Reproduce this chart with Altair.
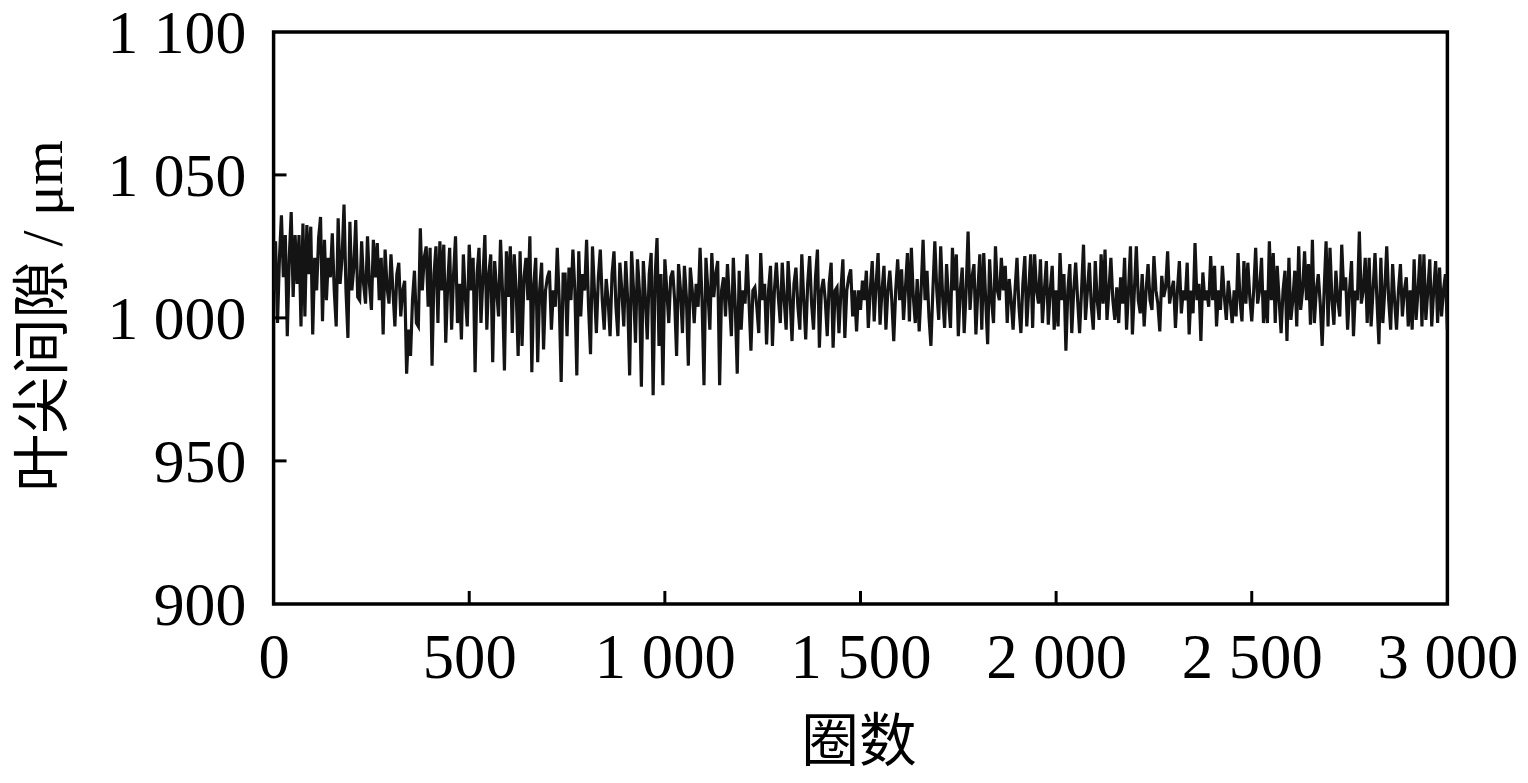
import altair as alt
import pandas as pd

# Tip-clearance readings (µm)
seg1 = [1009.6, 1026.8, 998.2, 1021.0, 1035.9, 1014.2, 1029.0, 993.6, 1021.0, 1037.0,
        1007.3, 1029.0, 1011.9, 1029.0, 997.0, 1033.0, 1000.5, 1032.5, 1015.3, 1031.9,
        994.2, 1021.0, 1009.6, 1027.9, 1035.3, 998.8, 1027.3, 1006.2, 1021.0, 1014.2,
        1029.6, 1009.6, 997.0, 1034.8, 1011.9, 1021.0, 1039.6, 1009.6, 993.0, 1033.6,
        1009.6, 1017.6, 1034.2, 1007.3, 1006.2, 1026.8, 1011.9, 1005.0, 1028.5, 1011.9,
        1002.8, 1027.3, 1014.2, 1026.2, 1006.2, 1021.0, 994.2, 1023.9, 1010.7, 1005.0,
        1022.2, 1009.6, 997.0, 1015.3, 1019.3, 1000.5, 1009.6, 1013.0, 980.5, 995.9,
        986.7, 1006.2, 1016.5, 998.2]
seg2 = [997.0, 1031.3, 1009.6, 1021.0, 1025.0, 1003.9, 1024.5, 983.3, 1015.3, 1025.0,
        998.2, 1026.8, 1009.6, 1025.6, 991.3, 1011.9, 1024.5, 995.9, 1015.3, 1028.5,
        998.2, 1011.9, 992.5, 1022.2, 1007.3, 997.0, 1025.6, 1009.6, 1021.0, 981.0,
        1015.3, 1024.5, 998.2, 1014.2, 1029.0, 995.9, 1015.3, 1022.2, 984.5, 1019.9,
        1009.6, 1000.5, 1027.3, 1009.6, 981.6, 1023.3, 1007.3, 1025.0, 994.7, 1022.2,
        1009.6, 986.7, 1023.3, 990.2, 1014.2, 1021.0, 1006.2, 1028.5, 981.0, 1011.9,
        1021.0, 984.5, 1009.6, 1019.3, 989.0, 1009.6, 1014.2, 1016.5, 995.9, 1009.6,
        1003.9, 1024.5, 1006.2, 977.6, 1015.3]
seg3 = [1015.3, 993.6, 1017.6, 1006.2, 1023.9, 1009.6, 979.9, 1023.3, 1000.5, 1015.3,
        1009.6, 1027.3, 1003.9, 987.3, 1025.0, 1009.6, 994.7, 1014.2, 1023.9, 1006.2,
        995.9, 1013.6, 1006.2, 993.6, 1015.3, 1023.3, 1003.9, 993.6, 1019.3, 1009.6,
        997.0, 1019.9, 1006.2, 979.9, 1023.3, 1009.6, 991.3, 1020.5, 1009.6, 975.9,
        1019.9, 1007.3, 992.5, 1015.3, 1022.7, 973.0, 1014.2, 1027.9, 990.2, 1015.3,
        976.5, 1020.5, 1009.6, 998.2, 1014.2, 1016.5, 1006.2, 986.7, 1018.8, 1009.6,
        994.7, 1018.2, 1007.3, 983.3, 1017.6, 1009.6, 998.2, 1011.9, 1003.9, 1024.5,
        1006.2, 976.5, 1021.0]
seg4 = [1009.6, 995.9, 1022.7, 1007.3, 1015.3, 1019.9, 976.5, 1009.6, 1014.2, 1000.5,
        1018.8, 1006.2, 993.6, 1021.0, 1003.9, 980.5, 1016.5, 995.9, 1009.6, 1005.0,
        1022.2, 1006.2, 988.5, 1009.6, 1010.7, 1003.9, 994.7, 1022.7, 1006.2, 1011.9,
        990.7, 1009.6, 1018.2, 990.2, 1009.6, 1019.3, 1007.3, 998.2, 1019.3, 1006.2,
        995.9, 1019.9, 1007.3, 991.9, 1011.9, 1017.6, 1003.9, 995.9, 1022.2, 1006.2,
        992.5, 1011.9, 1021.6, 1005.0, 995.9, 1014.2, 1023.9, 989.6, 1009.6, 1013.6,
        1006.2, 993.6, 1011.9, 1019.3, 989.6, 1009.6, 1010.7, 994.7, 1009.6, 1020.5,
        993.0, 1009.6, 1014.2, 1017.0, 1000.5, 1009.6]
seg5 = [995.3, 1009.6, 1002.8, 1013.0, 1006.2, 1016.5, 996.5, 1009.6, 1019.9, 998.8,
        1011.9, 1022.7, 997.6, 1009.6, 1018.2, 995.9, 1009.6, 1016.5, 1006.2, 991.9,
        1009.6, 1020.5, 1006.2, 1017.0, 999.3, 1010.7, 1022.7, 998.8, 1024.5, 1007.3,
        998.2, 1013.6, 995.3, 1009.6, 1027.3, 1006.2, 1016.5, 1000.5, 990.2, 1009.6,
        1026.8, 1009.6, 999.3, 1025.0, 1007.3, 996.5, 1018.8, 1006.2, 996.5, 1024.5,
        1009.6, 1022.2, 993.6, 1009.6, 1017.6, 994.7, 1009.6, 1030.2, 1002.8, 1014.2,
        1018.8, 994.2, 1009.6, 1022.2, 995.9, 1022.7, 1006.2, 990.8, 1020.5, 1006.2,
        998.2, 1025.0, 1009.6, 1006.2, 1021.0]
seg6 = [1009.6, 1018.2, 998.2, 1013.6, 1006.2, 995.9, 1009.6, 1021.0, 1003.9, 994.7,
        1011.9, 1021.6, 997.0, 1009.6, 1022.2, 996.5, 1022.2, 1009.6, 1005.0, 1020.5,
        998.2, 1009.6, 1019.9, 997.6, 1009.6, 1018.2, 995.9, 1009.6, 997.0, 1022.7,
        1006.2, 1015.3, 988.5, 1009.6, 1018.8, 994.7, 1009.6, 1019.3, 1006.2, 994.7,
        1009.6, 1025.6, 999.3, 1009.6, 1019.3, 1003.9, 995.9, 1019.9, 1006.2, 999.3,
        1022.2, 1005.0, 1023.9, 999.3, 1009.6, 1021.0, 1006.2, 999.3, 1010.7, 998.2,
        1014.2, 1005.0, 1021.0, 995.9, 1009.6, 1025.0, 994.2, 1009.6, 1025.0, 1006.2,
        1001.6, 1015.3]
seg7 = [997.0, 1009.6, 1018.8, 1006.2, 1002.8, 1021.6, 1009.6, 1005.0, 995.3, 1014.7,
        1007.3, 1010.7, 1023.3, 1005.0, 1009.6, 1013.0, 996.5, 1009.6, 1019.9, 1001.6,
        1009.6, 1006.2, 1019.3, 994.2, 1009.6, 1001.6, 1026.2, 1006.2, 1011.9, 991.9,
        1015.9, 1006.2, 1009.6, 1003.9, 1021.6, 1006.2, 1018.2, 997.0, 1009.6, 1002.8,
        1018.2, 1007.3, 999.3, 1013.0, 1006.2, 998.2, 1009.6, 1000.5, 1022.7, 1006.2,
        998.8, 1019.9, 1005.0, 1019.3, 1007.3, 998.8, 1009.6, 1024.5, 1005.0, 1009.6,
        1021.0, 998.2, 1009.6, 998.2, 1026.8, 1006.2, 1022.7, 998.2, 1018.2, 1006.2,
        994.7, 1009.6, 1016.5, 991.9]
seg8 = [1021.0, 999.3, 1006.2, 1016.5, 997.0, 1025.0, 1002.8, 1009.6, 1023.3, 1006.2,
        1018.8, 997.6, 1027.3, 998.2, 1009.6, 1015.3, 1005.0, 990.2, 1009.6, 1026.8,
        997.0, 1024.5, 1006.2, 997.6, 1016.5, 1006.2, 1000.5, 1025.6, 1009.6, 1014.2,
        995.9, 1009.6, 1019.9, 993.6, 1009.6, 1006.2, 1030.2, 1005.0, 1009.6, 1021.0,
        998.2, 1021.0, 997.0, 1009.6, 1022.7, 1006.2, 990.8, 1021.0, 998.2, 1009.6,
        1025.0, 1006.2, 995.9, 1018.8, 1006.2, 995.9, 1009.6, 1018.8, 1000.5, 1009.6,
        1014.2, 997.0, 1009.6, 995.9, 1020.5, 999.3, 1009.6, 1022.2, 997.0, 1022.2,
        999.3, 1009.6, 1020.5, 997.0, 1009.6, 1019.9, 998.2, 1017.6, 1000.5, 1009.6,
        1015.3, 995.9]

gap = seg1 + seg2 + seg3 + seg4 + seg5 + seg6 + seg7 + seg8
cycles = list(range(0, 5 * len(gap), 5))  # one reading every 5 revolutions

x_ticks = [0, 500, 1000, 1500, 2000, 2500, 3000]
y_ticks = [900, 950, 1000, 1050, 1100]
inner_x_ticks = [500, 1000, 1500, 2000, 2500]
inner_y_ticks = [950, 1000, 1050]

df = pd.DataFrame({"cycle": cycles, "gap": gap})
df_xt = pd.DataFrame({"cycle": inner_x_ticks})
df_yt = pd.DataFrame({"gap": inner_y_ticks})

serif = "Liberation Serif"
cjk = "Liberation Serif, Noto Sans CJK SC"
label_expr = "replace(format(datum.value, ','), ',', ' ')"

W, H = 1180, 575

xscale = alt.Scale(domain=[0, 3000], nice=False, zero=False)
yscale = alt.Scale(domain=[900, 1100], nice=False, zero=False)

xaxis = alt.Axis(values=x_ticks, labelExpr=label_expr, title="圈数",
                 grid=False, ticks=False, domain=False,
                 labelFont=serif, labelFontSize=63, labelColor="black",
                 labelPadding=24, labelOverlap=False, labelFlush=False,
                 titleFont=cjk, titleFontSize=58, titleFontWeight="normal",
                 titleColor="black", titleX=588, titleY=140,
                 titleBaseline="middle", titleAlign="center")
yaxis = alt.Axis(values=y_ticks, labelExpr=label_expr, title="叶尖间隙 / μm",
                 grid=False, ticks=False, domain=False,
                 labelFont=serif, labelFontSize=62, labelColor="black",
                 labelPadding=28, labelOffset=2, labelOverlap=False, labelFlush=False,
                 titleFont=cjk, titleFontSize=58, titleFontWeight="normal",
                 titleColor="black", titleX=-230, titleY=285,
                 titleBaseline="middle", titleAlign="center")

line = alt.Chart(df).mark_line(color="#141414", strokeWidth=3.2, clip=True).encode(
    x=alt.X("cycle:Q", scale=xscale, axis=xaxis),
    y=alt.Y("gap:Q", scale=yscale, axis=yaxis),
)

xt = alt.Chart(df_xt).mark_rule(color="black", strokeWidth=3).encode(
    x=alt.X("cycle:Q", scale=xscale, axis=xaxis),
    y=alt.value(H), y2=alt.value(H - 13),
)
yt = alt.Chart(df_yt).mark_rule(color="black", strokeWidth=3).encode(
    y=alt.Y("gap:Q", scale=yscale, axis=yaxis),
    x=alt.value(0), x2=alt.value(13),
)

chart = alt.layer(line, xt, yt).properties(
    width=W, height=H,
    background="white",
    autosize=alt.AutoSizeParams(type="none"),
    padding={"left": 267, "top": 22, "right": 73, "bottom": 175},
).configure_view(stroke="black", strokeWidth=3.5)

chart.save("out.html", embed_options={"renderer": "svg", "actions": False})
